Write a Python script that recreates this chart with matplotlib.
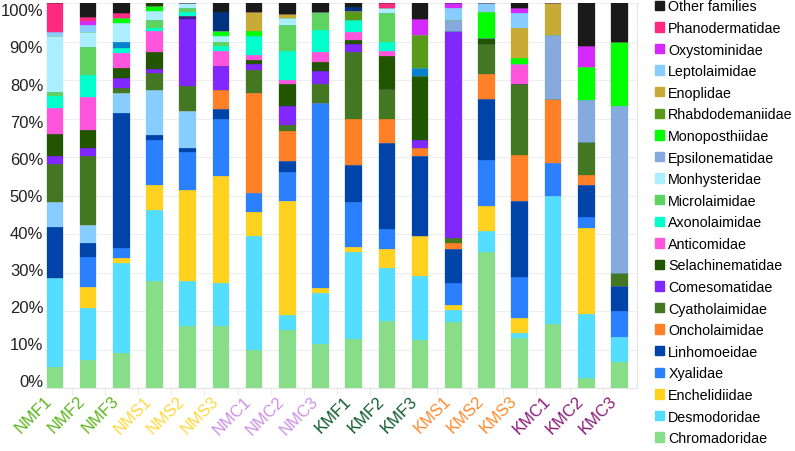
import matplotlib

matplotlib.use("Agg")
import matplotlib.pyplot as plt
import numpy as np
from matplotlib.patches import Patch
from matplotlib.ticker import FixedLocator
import matplotlib.transforms as mtransforms

plt.rcParams["font.family"] = ["Liberation Sans", "DejaVu Sans"]

samples = ["NMF1", "NMF2", "NMF3", "NMS1", "NMS2", "NMS3", "NMC1", "NMC2", "NMC3",
           "KMF1", "KMF2", "KMF3", "KMS1", "KMS2", "KMS3", "KMC1", "KMC2", "KMC3"]
label_colors = ["#5BB51D"] * 3 + ["#FFD83D"] * 3 + ["#CC8FE8"] * 3 + \
               ["#0F5C2E"] * 3 + ["#FF8A2E"] * 3 + ["#8C1A7A"] * 3

# relative abundance (%) per family, bottom of the stack first
chromadoridae = [5.5, 7.4, 9.0, 27.9, 16.0, 16.0, 9.9, 15.1, 11.4, 12.7, 17.4, 12.4, 17.2, 35.4, 13.0, 16.5, 2.6, 6.7]
desmodoridae = [23.0, 13.3, 23.5, 18.3, 11.9, 11.4, 29.6, 3.9, 13.3, 22.5, 13.7, 16.8, 3.0, 5.4, 1.4, 33.5, 16.7, 6.5]
enchelidiidae = [0, 5.6, 1.3, 6.4, 23.6, 27.6, 6.1, 29.5, 1.2, 1.3, 5.1, 10.3, 1.4, 6.6, 3.9, 0, 22.3, 0]
xyalidae = [0, 7.6, 2.5, 11.9, 9.9, 15.0, 5.0, 7.6, 48.1, 11.8, 5.0, 0, 5.8, 11.7, 10.6, 8.4, 2.7, 6.7]
linhomoeidae = [13.2, 3.8, 35.1, 1.1, 0.9, 2.5, 0, 2.9, 0, 9.7, 22.4, 20.8, 8.8, 16.0, 19.7, 0, 8.4, 6.7]
unlisted_a = [6.6, 4.7, 5.2, 11.9, 9.7, 0, 0, 0, 0, 0, 0, 0, 0, 0, 0, 0, 0, 0]
oncholaimidae = [0, 0, 0, 0, 0, 5.0, 25.9, 7.7, 0, 11.9, 6.4, 2.1, 1.4, 6.5, 11.9, 16.7, 2.7, 0]
cyatholaimidae = [9.9, 17.9, 1.2, 4.3, 6.4, 0, 6.2, 1.7, 4.9, 17.3, 7.6, 0, 1.4, 7.8, 18.4, 0, 8.4, 3.3]
comesomatidae = [2.1, 2.0, 2.6, 1.1, 17.4, 6.2, 1.4, 4.9, 3.4, 2.1, 0, 2.1, 53.8, 0, 0, 0, 0, 0]
unlisted_b = [0, 0, 0, 0, 0.9, 0, 0, 0, 0, 0, 0, 0, 0, 0, 0, 0, 0, 0]
selachinematidae = [5.6, 4.7, 2.7, 4.3, 0, 0, 1.2, 5.7, 2.5, 1.1, 8.7, 16.6, 0, 1.4, 0, 0, 0, 0]
anticomidae = [6.7, 8.5, 4.0, 5.4, 0, 3.9, 1.2, 1.0, 2.4, 2.1, 1.3, 0, 0, 0, 5.2, 0, 0, 0]
axonolaimidae = [3.2, 5.7, 1.3, 1.0, 1.0, 1.3, 5.0, 7.6, 5.7, 3.2, 2.4, 0, 0, 0, 0, 0, 0, 0]
microlaimidae = [1.1, 7.5, 0, 2.1, 1.1, 1.1, 0, 6.8, 4.7, 0, 7.4, 0, 0, 0, 0, 0, 0, 0]
unlisted_c = [0, 0, 1.4, 0, 0, 0, 0, 0, 0, 0, 0, 2.1, 0, 0, 0, 0, 0, 0]
monhysteridae = [14.4, 3.8, 5.0, 2.1, 1.2, 1.3, 0, 1.7, 0, 0, 1.3, 0, 0, 0, 0, 0, 0, 0]
epsilonematidae = [0, 0, 0, 0, 0, 0, 0, 0, 0, 0, 0, 0, 2.8, 0, 0, 16.7, 11.1, 43.4]
monoposthiidae = [0, 0, 1.3, 1.3, 0, 1.3, 1.1, 0, 0, 0, 0, 0, 0, 6.8, 1.5, 0, 8.6, 16.7]
rhabdodemaniidae = [0, 0, 0, 0, 0, 0, 0, 0, 0, 2.1, 0, 8.6, 0, 0, 0, 0, 0, 0]
enoplidae = [0, 0, 0, 0, 0, 0, 5.0, 1.0, 0, 0, 0, 0, 0, 0, 7.8, 8.2, 0, 0]
leptolaimidae = [1.1, 1.9, 0, 0, 0, 0, 0, 0, 0, 0, 0, 0, 3.0, 2.4, 4.0, 0, 0, 0]
oxystominidae = [0, 1.0, 0, 0, 0, 0, 0, 0, 0, 0, 0, 4.0, 1.4, 0, 1.3, 0, 5.4, 0]
phanodermatidae = [7.6, 1.0, 1.3, 0, 0, 0, 0, 0, 0, 0, 1.3, 0, 0, 0, 0, 0, 0, 0]
unlisted_d = [0, 0, 0, 0, 0, 5.0, 0, 0, 0, 1.1, 0, 0, 0, 0, 0, 0, 0, 0]
unlisted_e = [0, 0, 0, 0.9, 0, 0, 0, 0, 0, 0, 0, 0, 0, 0, 0, 0, 0, 0]
other = [0, 3.6, 2.6, 0, 0, 2.4, 2.4, 2.9, 2.4, 1.1, 0, 4.2, 0, 0, 1.3, 0, 11.1, 10.0]

# (name, values, colour); names starting with "_" are not in the legend
stack = [
    ("Chromadoridae", chromadoridae, "#88DD88"),
    ("Desmodoridae", desmodoridae, "#55DDFF"),
    ("Enchelidiidae", enchelidiidae, "#FFD21F"),
    ("Xyalidae", xyalidae, "#2B80FF"),
    ("Linhomoeidae", linhomoeidae, "#0044AA"),
    ("_unlisted_a", unlisted_a, "#87CDFF"),
    ("Oncholaimidae", oncholaimidae, "#FF8027"),
    ("Cyatholaimidae", cyatholaimidae, "#447722"),
    ("Comesomatidae", comesomatidae, "#8028FF"),
    ("_unlisted_b", unlisted_b, "#441C80"),
    ("Selachinematidae", selachinematidae, "#225500"),
    ("Anticomidae", anticomidae, "#FF55DD"),
    ("Axonolaimidae", axonolaimidae, "#00FFCC"),
    ("Microlaimidae", microlaimidae, "#5FD35F"),
    ("_unlisted_c", unlisted_c, "#0A80D0"),
    ("Monhysteridae", monhysteridae, "#AAEEFF"),
    ("Epsilonematidae", epsilonematidae, "#87AADE"),
    ("Monoposthiidae", monoposthiidae, "#00FF00"),
    ("Rhabdodemaniidae", rhabdodemaniidae, "#5A9A1A"),
    ("Enoplidae", enoplidae, "#C8AB37"),
    ("Leptolaimidae", leptolaimidae, "#87CDFF"),
    ("Oxystominidae", oxystominidae, "#D42AFF"),
    ("Phanodermatidae", phanodermatidae, "#FF2A7F"),
    ("_unlisted_d", unlisted_d, "#003380"),
    ("_unlisted_e", unlisted_e, "#224400"),
    ("Other families", other, "#1A1A1A"),
]

vals = np.array([s[1] for s in stack], dtype=float)
vals = vals / vals.sum(axis=0) * 100  # 100% stacked
x = np.arange(len(samples))

fig = plt.figure(figsize=(7.95, 4.52), dpi=100)
ax = fig.add_axes([45 / 795, 63 / 452, 592 / 795, 385 / 452])

bottom = np.zeros(len(samples))
for (name, _, color), v in zip(stack, vals):
    ax.bar(x, v, width=0.5, bottom=bottom, color=color, label=name,
           edgecolor=color, linewidth=0.2, zorder=3)
    bottom += v

ax.set_xlim(-0.3, 17.53)
ax.set_ylim(0, 100)
ticks = np.arange(0, 101, 10)
ax.set_yticks(ticks)
ax.set_yticklabels([])
ax.grid(axis="y", color="#EEEEEE", linewidth=0.8, zorder=0)
ax.tick_params(axis="y", length=0)
# the tick labels in the source sit a little inside the gridlines
ytrans = mtransforms.blended_transform_factory(ax.transAxes, ax.transData)
for v in ticks:
    ax.text(-0.003, 1.56 + 0.964 * v, f"{v}%", transform=ytrans, ha="right",
            va="center", fontsize=12, color="#222222")

ax.set_xticks(x)
ax.set_xticklabels(samples, rotation=45, ha="right", fontsize=12)
for lbl, c in zip(ax.get_xticklabels(), label_colors):
    lbl.set_color(c)
    lbl.set_transform(lbl.get_transform() + mtransforms.ScaledTranslation(-6 / 72, -17 / 72, fig.dpi_scale_trans))
ax.tick_params(axis="x", length=0)
ax.xaxis.set_minor_locator(FixedLocator(x[:-1] + 0.5))
ax.tick_params(axis="x", which="minor", length=5, color="#E6E6E6")

for side in ["top", "left"]:
    ax.spines[side].set_visible(False)
for side in ["bottom", "right"]:
    ax.spines[side].set_color("#E6E6E6")

handles = [Patch(color=c, label=n) for n, _, c in stack if not n.startswith("_")][::-1]
fig.legend(handles=handles, loc="upper left", bbox_to_anchor=(655 / 795, 0.999),
           frameon=False, fontsize=10.3, labelspacing=0.53, handlelength=0.63,
           handleheight=0.63, handletextpad=0.3, borderpad=0, borderaxespad=0)

fig.savefig("out.png", dpi=100)
